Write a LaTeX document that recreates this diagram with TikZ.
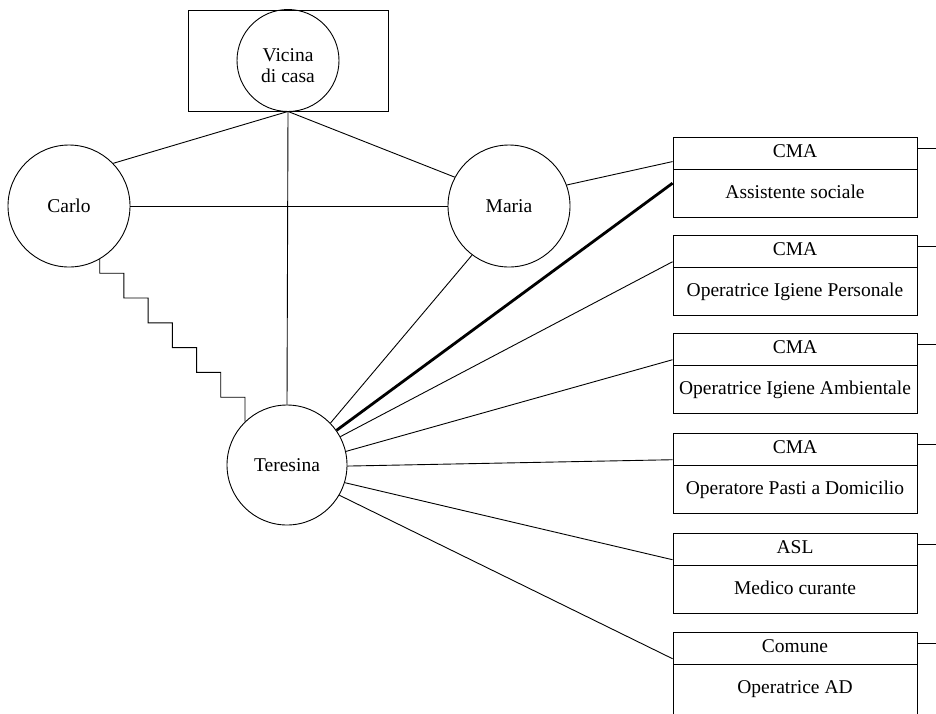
\documentclass[tikz,border=0pt]{standalone}
\usepackage{fontspec}
\setmainfont{Liberation Serif}
\usetikzlibrary{calc}
\begin{document}
\begin{tikzpicture}[x=1pt,y=-1pt, line width=0.9pt,
  lbl/.style={font=\fontsize{19.5}{21.5}\selectfont},
  person/.style={circle, draw, minimum size=122pt, inner sep=0pt, lbl},
  hdr/.style={rectangle, draw, minimum width=244pt, minimum height=32pt, inner sep=0pt, lbl, text height=13pt, text depth=4pt},
  bdy/.style={rectangle, draw, minimum width=244pt, minimum height=48pt, inner sep=0pt, lbl, text height=13pt, text depth=4pt, anchor=north},
  thick link/.style={line width=2.8pt}]
\useasboundingbox (0,0) rectangle (936,713);
\clip (0,0) rectangle (936,713);

% people
\node[rectangle, draw, minimum width=200pt, minimum height=101pt, inner sep=0pt] (vbox) at (288,60.5) {};
\node[person, minimum size=102pt,
  label={[lbl, align=center, yshift=-5pt]center:Vicina\\di casa}] (vicina) at (288,60.5) {};
\node[person] (carlo) at (69,206) {Carlo};
\node[person] (maria) at (509,206) {Maria};
\node[person, minimum size=120pt] (teresina) at (287,465) {Teresina};

% services
\node[hdr] (b1h) at (795,153) {CMA};
\node[bdy] (b1b) at (b1h.south) {Assistente sociale};
\node[hdr] (b2h) at (795,251) {CMA};
\node[bdy] (b2b) at (b2h.south) {Operatrice Igiene Personale};
\node[hdr] (b3h) at (795,349) {CMA};
\node[bdy] (b3b) at (b3h.south) {Operatrice Igiene Ambientale};
\node[hdr] (b4h) at (795,449) {CMA};
\node[bdy] (b4b) at (b4h.south) {Operatore Pasti a Domicilio};
\node[hdr] (b5h) at (795,549) {ASL};
\node[bdy] (b5b) at (b5h.south) {Medico curante};
\node[hdr] (b6h) at (795,648) {Comune};
\node[bdy, minimum height=54pt, text depth=10pt] (b6b) at (b6h.south) {Operatrice AD};

% right stubs
\foreach \b in {b1h,b2h,b3h,b4h,b5h,b6h}
  \draw (\b.2) -- ++(19,0);

% links among people
\draw (vbox.south) -- (carlo.44);
\draw (vbox.south) -- (maria.152);
\draw (vbox.south) -- (teresina.north);
\draw (carlo.east) -- (maria.west);
\draw (teresina.44) -- (maria.233);
\draw let \p1=(carlo.-60), \p2=(teresina.134), \n1={(\x2-\x1)/6} in
  (\p1) -- ++(0,14) -- ++(\n1,0) -- ++(0,24.8) -- ++(\n1,0) -- ++(0,24.8)
  -- ++(\n1,0) -- ++(0,24.8) -- ++(\n1,0) -- ++(0,24.8) -- ++(\n1,0)
  -- ++(0,24.8) -- ++(\n1,0) -- (\p2);

% links to services
\draw (maria.20) -- (b1h.184);
\draw[thick link] (teresina.35) -- (b1b.175);
\draw (teresina.28) -- (b2h.185);
\draw (teresina.13) -- (b3h.185);
\draw (teresina.-1) -- (b4h.185);
\draw (teresina.-17) -- (b5h.185);
\draw (teresina.-30) -- (b6h.185);
\end{tikzpicture}
\end{document}
